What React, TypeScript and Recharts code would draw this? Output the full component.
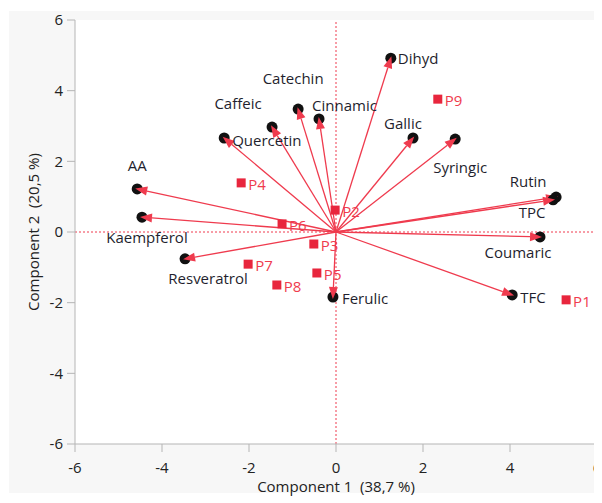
import React from "react";
import {
  ScatterChart,
  Scatter,
  XAxis,
  YAxis,
  ReferenceLine,
  CartesianGrid,
  Label,
} from "recharts";

// loadings (variables)
const variableNames = [
  "Dihyd",
  "Catechin",
  "Cinnamic",
  "Caffeic",
  "Quercetin",
  "Gallic",
  "Syringic",
  "Rutin",
  "TPC",
  "Coumaric",
  "TFC",
  "Ferulic",
  "AA",
  "Kaempferol",
  "Resveratrol",
];
const variableX = [1.26, -0.87, -0.39, -1.47, -2.57, 1.77, 2.74, 5.06, 4.99, 4.69, 4.05, -0.07, -4.57, -4.46, -3.47];
const variableY = [4.92, 3.48, 3.2, 2.97, 2.66, 2.66, 2.63, 0.99, 0.91, -0.14, -1.78, -1.84, 1.22, 0.42, -0.76];

// scores (samples)
const sampleNames = ["P1", "P2", "P3", "P4", "P5", "P6", "P7", "P8", "P9"];
const sampleX = [5.29, -0.02, -0.51, -2.18, -0.44, -1.24, -2.02, -1.36, 2.34];
const sampleY = [-1.92, 0.62, -0.34, 1.39, -1.16, 0.23, -0.91, -1.5, 3.76];

const axisTicks = [-6, -4, -2, 0, 2, 4, 6];

const RED = "#ef3b4e";
const SQUARE = "#e8263d";
const FONT = "'Segoe UI', 'Open Sans', sans-serif";

// label placement around each loading point: dx, dy, anchor
const labelPlacement: Record<string, [number, number, "start" | "middle" | "end"]> = {
  Dihyd: [7, 0, "start"],
  Catechin: [-5, -31, "middle"],
  Cinnamic: [-7, -14, "start"],
  Caffeic: [-34, -24, "middle"],
  Quercetin: [8, 2, "start"],
  Gallic: [-10, -15, "middle"],
  Syringic: [5, 28, "middle"],
  Rutin: [-28, -16, "middle"],
  TPC: [-21, 12, "middle"],
  Coumaric: [-22, 15, "middle"],
  TFC: [8, 2, "start"],
  Ferulic: [9, 1, "start"],
  AA: [0, -24, "middle"],
  Kaempferol: [5, 20, "middle"],
  Resveratrol: [23, 19, "middle"],
};

const variables = variableNames.map((name, i) => ({
  name,
  x: variableX[i],
  y: variableY[i],
}));
const samples = sampleNames.map((name, i) => ({
  name,
  x: sampleX[i],
  y: sampleY[i],
}));

const LoadingLabel = (props: any) => {
  const { cx, cy, payload } = props;
  const [dx, dy, anchor] = labelPlacement[payload.name] || [7, 0, "start"];
  return (
    <text
      x={cx + dx}
      y={cy + dy}
      textAnchor={anchor}
      dominantBaseline="central"
      fontSize={15}
      fontFamily={FONT}
      fill="#1f1f2e"
    >
      {payload.name}
    </text>
  );
};

const SampleSquare = (props: any) => {
  const { cx, cy, payload } = props;
  return (
    <g>
      <rect x={cx - 4.5} y={cy - 4.5} width={9} height={9} fill={SQUARE} />
      <text
        x={cx + 7}
        y={cy + 1}
        dominantBaseline="central"
        fontSize={15}
        fontFamily={FONT}
        fill={RED}
      >
        {payload.name}
      </text>
    </g>
  );
};

// arrow from the origin to the loading, with the black marker under the head
const Arrow = (props: any) => {
  const { x1, y1, x2, y2 } = props;
  if ([x1, y1, x2, y2].some((v) => v == null || isNaN(v))) return null;
  const ang = Math.atan2(y2 - y1, x2 - x1);
  const len = 12;
  const half = 4.5;
  const tx = x2 + 2 * Math.cos(ang);
  const ty = y2 + 2 * Math.sin(ang);
  const bx = tx - len * Math.cos(ang);
  const by = ty - len * Math.sin(ang);
  const nx = -Math.sin(ang) * half;
  const ny = Math.cos(ang) * half;
  return (
    <g>
      <circle cx={x2} cy={y2} r={5.5} fill="#111" />
      <line x1={x1} y1={y1} x2={bx} y2={by} stroke={RED} strokeWidth={1.3} />
      <polygon
        points={`${tx},${ty} ${bx + nx},${by + ny} ${bx - nx},${by - ny}`}
        fill={RED}
      />
    </g>
  );
};

const App = () => {
  return (
    <div style={{ position: "relative", width: 594, height: 495 }}>
      <div
        style={{
          position: "absolute",
          left: 1,
          top: 3,
          width: 593,
          height: 482,
          background: "#f7f7f7",
        }}
      />
      <div style={{ position: "absolute", left: 0, top: 0 }}>
        <ScatterChart
          width={594}
          height={495}
          margin={{ top: 12, right: 5, bottom: 0, left: 0 }}
        >
          <CartesianGrid fill="#ffffff" horizontal={false} vertical={false} />
          <XAxis
            type="number"
            dataKey="x"
            domain={[-6, 6]}
            ticks={axisTicks}
            allowDataOverflow
            stroke="#b5b5b5"
            tickSize={8}
            tickMargin={10}
            height={59}
            tick={{ fill: "#222", fontSize: 15, fontFamily: FONT }}
          >
            <Label
              content={(p: any) => {
                const vb = p.viewBox;
                return (
                  <text
                    x={vb.x + vb.width / 2}
                    y={vb.y + 42}
                    textAnchor="middle"
                    dominantBaseline="central"
                    fontSize={15}
                    fontFamily={FONT}
                    fill="#222"
                    style={{ whiteSpace: "pre" }}
                  >
                    {"Component 1  (38,7 %)"}
                  </text>
                );
              }}
            />
          </XAxis>
          <XAxis
            xAxisId="top"
            orientation="top"
            type="number"
            domain={[-6, 6]}
            height={0}
            tick={false}
            tickLine={false}
            stroke="#c4c4c4"
          />
          <YAxis
            type="number"
            dataKey="y"
            domain={[-6, 6]}
            ticks={axisTicks}
            allowDataOverflow
            stroke="#b5b5b5"
            tickSize={8}
            tickMargin={4}
            width={67}
            tick={{ fill: "#222", fontSize: 15, fontFamily: FONT }}
          >
            <Label
              content={(p: any) => {
                const vb = p.viewBox;
                const cx = vb.x + 25;
                const cy = vb.y + vb.height / 2;
                return (
                  <text
                    x={cx}
                    y={cy}
                    transform={`rotate(-90 ${cx} ${cy})`}
                    textAnchor="middle"
                    dominantBaseline="central"
                    fontSize={15}
                    fontFamily={FONT}
                    fill="#222"
                    style={{ whiteSpace: "pre" }}
                  >
                    {"Component 2  (20,5 %)"}
                  </text>
                );
              }}
            />
          </YAxis>
          <YAxis
            yAxisId="right"
            orientation="right"
            type="number"
            domain={[-6, 6]}
            width={0}
            tick={false}
            tickLine={false}
            stroke="#c4c4c4"
            strokeWidth={2}
          />
          <ReferenceLine x={0} stroke={RED} strokeDasharray="2 2" />
          <ReferenceLine y={0} stroke={RED} strokeDasharray="2 2" />
          {variables.map((v) => (
            <ReferenceLine
              key={v.name}
              segment={[
                { x: 0, y: 0 },
                { x: v.x, y: v.y },
              ]}
              shape={Arrow}
            />
          ))}
          <Scatter
            data={variables}
            shape={<LoadingLabel />}
            isAnimationActive={false}
          />
          <Scatter
            data={samples}
            shape={<SampleSquare />}
            isAnimationActive={false}
          />
        </ScatterChart>
      </div>
    </div>
  );
};

export default App;
